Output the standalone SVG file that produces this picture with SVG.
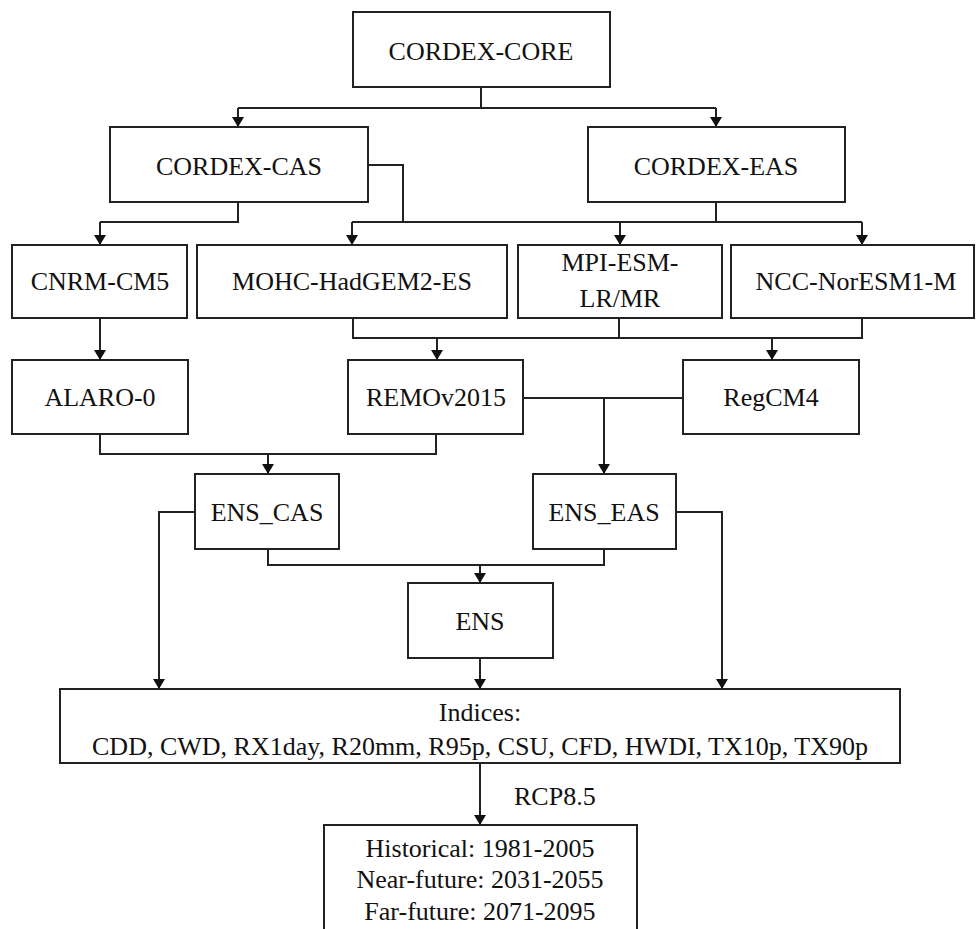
<svg xmlns="http://www.w3.org/2000/svg" width="976" height="929" viewBox="0 0 976 929">
<defs>
<marker id="ah" viewBox="0 0 10 12" refX="10" refY="6" markerWidth="10" markerHeight="12" markerUnits="userSpaceOnUse" orient="auto">
<path d="M0,0 L10,6 L0,12 Z" fill="#111"/>
</marker>
<style>
rect{fill:#fff;stroke:#222;stroke-width:2}
text{font-family:"Liberation Serif","Times New Roman",serif;font-size:26px;fill:#111;text-anchor:middle}
.c path{fill:none;stroke:#222;stroke-width:2}
.a{marker-end:url(#ah)}
</style>
</defs>
<rect x="0" y="0" width="976" height="929" style="fill:#fff;stroke:none"/>
<g class="c" id="connectors">
<path d="M481,87 V108 M238,108 H716"/>
<path class="a" d="M238,108 V127"/>
<path class="a" d="M716,108 V127"/>
<path d="M238,202 V222 H100"/>
<path class="a" d="M100,222 V245"/>
<path d="M368,165 H403 V222"/>
<path d="M716,202 V222 M352,222 H862"/>
<path class="a" d="M352,222 V245"/>
<path class="a" d="M620,222 V245"/>
<path class="a" d="M862,222 V245"/>
<path class="a" d="M100,318 V360"/>
<path d="M353,318 V338 H862 V318 M619,318 V338"/>
<path class="a" d="M437,338 V360"/>
<path class="a" d="M772,338 V360"/>
<path d="M523,398 H683"/>
<path class="a" d="M604,398 V474"/>
<path d="M100,434 V454 H436 V434"/>
<path class="a" d="M268,454 V474"/>
<path d="M268,549 V565 H604 V549"/>
<path class="a" d="M480,565 V583"/>
<path class="a" d="M195,512 H159 V689"/>
<path class="a" d="M676,512 H722 V689"/>
<path class="a" d="M480,658 V689"/>
<path class="a" d="M480,763 V825"/>
</g>
<g id="cordex-core"><rect x="353" y="12" width="257" height="75"/><text x="481" y="60">CORDEX-CORE</text></g>
<g id="cordex-cas"><rect x="110" y="127" width="258" height="75"/><text x="239" y="175">CORDEX-CAS</text></g>
<g id="cordex-eas"><rect x="588" y="127" width="257" height="75"/><text x="716" y="175">CORDEX-EAS</text></g>
<g id="cnrm"><rect x="12" y="245" width="175" height="73"/><text x="100" y="290">CNRM-CM5</text></g>
<g id="mohc"><rect x="197" y="245" width="310" height="73"/><text x="352" y="290">MOHC-HadGEM2-ES</text></g>
<g id="mpi"><rect x="518" y="245" width="204" height="73"/><text x="620" y="271">MPI-ESM-</text><text x="620" y="307">LR/MR</text></g>
<g id="ncc"><rect x="731" y="245" width="243" height="73"/><text x="856" y="290">NCC-NorESM1-M</text></g>
<g id="alaro"><rect x="12" y="360" width="176" height="74"/><text x="100" y="406">ALARO-0</text></g>
<g id="remo"><rect x="348" y="360" width="175" height="74"/><text x="436" y="406">REMOv2015</text></g>
<g id="regcm"><rect x="683" y="360" width="176" height="74"/><text x="771" y="406">RegCM4</text></g>
<g id="ens-cas"><rect x="195" y="474" width="144" height="75"/><text x="267" y="521">ENS_CAS</text></g>
<g id="ens-eas"><rect x="533" y="474" width="143" height="75"/><text x="604" y="521">ENS_EAS</text></g>
<g id="ens"><rect x="408" y="583" width="145" height="75"/><text x="480" y="630">ENS</text></g>
<g id="indices"><rect x="60" y="689" width="840" height="74"/><text x="480" y="721">Indices:</text><text x="480" y="755">CDD, CWD, RX1day, R20mm, R95p, CSU, CFD, HWDI, TX10p, TX90p</text></g>
<g id="rcp-label"><text x="514" y="805" style="text-anchor:start">RCP8.5</text></g>
<g id="periods"><rect x="324" y="825" width="313" height="120"/><text x="480" y="857">Historical: 1981-2005</text><text x="480" y="888">Near-future: 2031-2055</text><text x="480" y="920">Far-future: 2071-2095</text></g>
</svg>
